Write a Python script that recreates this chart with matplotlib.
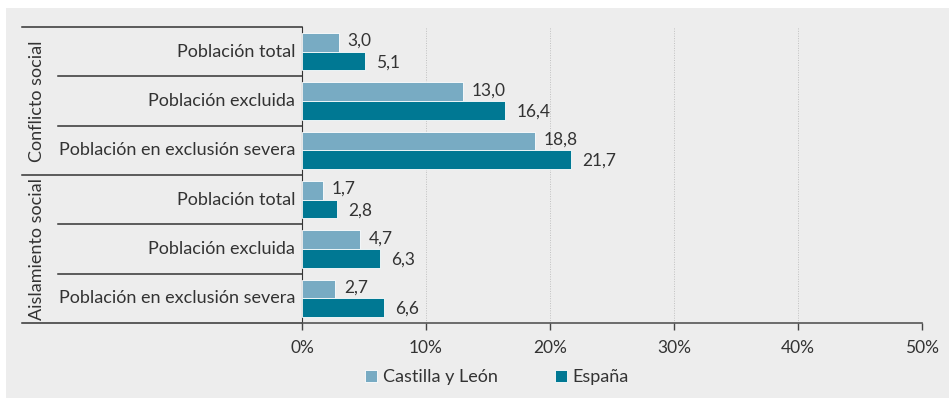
import matplotlib.pyplot as plt
import matplotlib.transforms as mtransforms
from matplotlib.patches import Rectangle

# data
rows = ['Población total', 'Población excluida', 'Población en exclusión severa',
        'Población total', 'Población excluida', 'Población en exclusión severa']
groups = ['Conflicto social', 'Aislamiento social']
castilla = [3.0, 13.0, 18.8, 1.7, 4.7, 2.7]
espana = [5.1, 16.4, 21.7, 2.8, 6.3, 6.6]
xticks = [0, 10, 20, 30, 40, 50]

c_cyl = '#78abc3'
c_esp = '#007893'
txt = '#333333'
bg = '#ededed'

plt.rcParams['font.family'] = ['Lato', 'DejaVu Sans']

fig = plt.figure(figsize=(9.49, 3.98), dpi=100)
fig.patch.set_facecolor('white')
fig.patches.append(Rectangle((6 / 949, 0), 943 / 949, 390 / 398, transform=fig.transFigure,
                             facecolor=bg, edgecolor='none', zorder=-10))

ax = fig.add_axes([302 / 949, 1 - 323 / 398, 620 / 949, 296 / 398])
ax.set_facecolor('none')

ypos = list(range(len(rows)))
h = 0.38
ax.barh([y - 0.19 for y in ypos], castilla, height=h, color=c_cyl, edgecolor='white', linewidth=0.6,
        label='Castilla y León', zorder=3)
ax.barh([y + 0.19 for y in ypos], espana, height=h, color=c_esp, edgecolor='white', linewidth=0.6,
        label='España', zorder=3)

for y, v in zip(ypos, castilla):
    ax.annotate(f'{v:.1f}'.replace('.', ','), (v, y - 0.19), xytext=(6, 1), textcoords='offset points',
                va='center', ha='left', fontsize=12.5, color=txt)
for y, v in zip(ypos, espana):
    ax.annotate(f'{v:.1f}'.replace('.', ','), (v, y + 0.19), xytext=(8, -1), textcoords='offset points',
                va='center', ha='left', fontsize=12.5, color=txt)

ax.set_xlim(0, 50)
ax.set_ylim(5.5, -0.5)
ax.set_xticks(xticks)
ax.set_xticklabels([f'{t}%' for t in xticks], fontsize=12.5, color=txt)
ax.set_yticks([])
ax.tick_params(axis='x', length=5, width=1, color='#444444', pad=7)
ax.xaxis.grid(True, linestyle=(0, (1, 1.5)), color='#c0c0c0', linewidth=0.7, zorder=0)
for s in ['top', 'right']:
    ax.spines[s].set_visible(False)
ax.spines['left'].set_color('#333333')
ax.spines['bottom'].set_color('#555555')
ax.spines['bottom'].set_linewidth(1.2)

# row labels and group lines on the left
tr = mtransforms.blended_transform_factory(ax.transAxes, ax.transData)
x_outer = (22 - 302) / 620
x_inner = (58 - 302) / 620
for y, lab in zip(ypos, rows):
    ax.text(-0.011, y, lab, transform=tr, ha='right', va='center', fontsize=13, color=txt)
for b in [-0.5, 0.5, 1.5, 2.5, 3.5, 4.5, 5.5]:
    x0 = x_outer if b in (-0.5, 2.5, 5.5) else x_inner
    ax.plot([x0, 0], [b, b], transform=tr, color='#333333', linewidth=1.1, clip_on=False)
for g, yc in zip(groups, [1.0, 4.0]):
    ax.text((37 - 302) / 620, yc, g, transform=tr, rotation=90, ha='center', va='center',
            fontsize=13, color=txt)

leg = fig.legend(loc='center', bbox_to_anchor=(497 / 949, 1 - 377 / 398), ncol=2, frameon=False,
                 fontsize=13, handlelength=0.65, handleheight=0.65, handletextpad=0.3, columnspacing=3.2)
for t in leg.get_texts():
    t.set_color(txt)

fig.savefig('out.png', dpi=100, facecolor='white')
